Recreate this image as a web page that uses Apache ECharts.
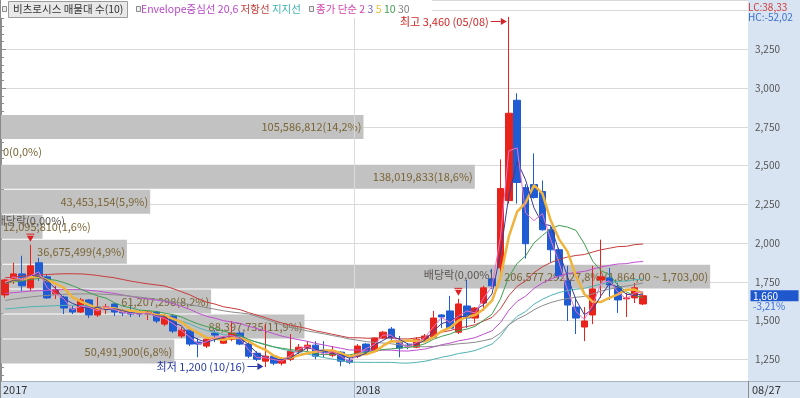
<!DOCTYPE html>
<html>
<head>
<meta charset="utf-8">
<title>비츠로시스 주봉</title>
<script src="https://cdn.jsdelivr.net/npm/echarts@6/dist/echarts.min.js"></script>
<style>
  html, body { margin: 0; padding: 0; background: #fff; }
  #chart { width: 800px; height: 398px; }
</style>
</head>
<body>
<div id="chart"></div>
<script>
// weekly bars, 2017-03-06 .. 2018-08-27 (Chuseok week 2017-10-02 has no bar)
const dates = [
  '2017-03-06','2017-03-13','2017-03-20','2017-03-27','2017-04-03','2017-04-10','2017-04-17','2017-04-24','2017-05-01','2017-05-08',
  '2017-05-15','2017-05-22','2017-05-29','2017-06-05','2017-06-12','2017-06-19','2017-06-26','2017-07-03','2017-07-10','2017-07-17',
  '2017-07-24','2017-07-31','2017-08-07','2017-08-14','2017-08-21','2017-08-28','2017-09-04','2017-09-11','2017-09-18','2017-09-25',
  '2017-10-09','2017-10-16','2017-10-23','2017-10-30','2017-11-06','2017-11-13','2017-11-20','2017-11-27','2017-12-04','2017-12-11',
  '2017-12-18','2017-12-25','2018-01-01','2018-01-08','2018-01-15','2018-01-22','2018-01-29','2018-02-05','2018-02-12','2018-02-19',
  '2018-02-26','2018-03-05','2018-03-12','2018-03-19','2018-03-26','2018-04-02','2018-04-09','2018-04-16','2018-04-23','2018-04-30',
  '2018-05-07','2018-05-14','2018-05-21','2018-05-28','2018-06-04','2018-06-11','2018-06-18','2018-06-25','2018-07-02','2018-07-09',
  '2018-07-16','2018-07-23','2018-07-30','2018-08-06','2018-08-13','2018-08-20','2018-08-27'
];

// [open, close, low, high]
const candles = [
  [1665,1762,1646,1769],[1769,1801,1737,1873],[1801,1724,1691,1918],[1711,1853,1691,1990],[1873,1775,1756,1905],
  [1782,1646,1639,1801],[1672,1698,1639,1724],[1652,1581,1542,1659],[1575,1555,1542,1594],[1555,1633,1549,1646],
  [1633,1536,1516,1639],[1536,1587,1523,1652],[1581,1587,1542,1607],[1607,1555,1529,1613],[1562,1549,1529,1575],
  [1555,1542,1523,1594],[1555,1542,1523,1568],[1542,1555,1503,1562],[1555,1497,1484,1562],[1477,1529,1464,1542],
  [1529,1432,1419,1542],[1400,1438,1387,1458],[1438,1348,1335,1445],[1361,1348,1263,1387],[1335,1380,1322,1393],
  [1419,1406,1361,1438],[1354,1387,1348,1400],[1380,1419,1367,1497],[1419,1348,1341,1432],[1348,1270,1257,1361],
  [1289,1250,1238,1302],[1238,1270,1200,1477],[1270,1225,1212,1283],[1225,1250,1210,1263],[1250,1302,1238,1413],
  [1302,1328,1283,1348],[1322,1341,1302,1367],[1341,1270,1250,1367],[1309,1296,1263,1367],[1276,1302,1263,1335],
  [1296,1238,1205,1302],[1244,1231,1218,1270],[1270,1335,1257,1348],[1348,1302,1289,1354],[1302,1387,1296,1393],
  [1387,1425,1380,1432],[1445,1387,1374,1458],[1367,1322,1263,1400],[1341,1335,1315,1354],[1328,1380,1322,1393],
  [1380,1400,1374,1413],[1393,1516,1387,1562],[1536,1523,1451,1542],[1562,1451,1445,1659],[1425,1607,1413,1640],
  [1594,1516,1451,1762],[1516,1581,1484,1587],[1613,1711,1562,1724],[1769,1724,1704,1834],[1840,2352,1808,2540],
  [2274,2838,2255,3460],[2922,2391,2255,2967],[2358,1996,1900,2380],[2378,2294,2287,2579],[2333,2086,2080,2404],
  [2086,1957,1873,2106],[1957,1788,1770,1970],[1756,1600,1497,1853],[1587,1516,1413,1646],[1458,1497,1367,1587],
  [1536,1704,1477,1853],[1762,1782,1646,2022],[1775,1730,1633,1840],[1717,1633,1549,1743],[1640,1646,1523,1678],
  [1646,1711,1613,1743],[1607,1660,1600,1675]
];

// Envelope (20, 6%)
const envCenter = [
  1675,1680,1685,1690,1693,1695,1698,1700,1700,1699,1695,1690,1682,1675,1665,1655,1646,1639,1632,1625,
  1609,1591,1572,1547,1527,1515,1499,1491,1481,1463,1448,1433,1415,1399,1387,1376,1366,1352,1342,1331,
  1321,1310,1310,1308,1308,1309,1309,1304,1303,1309,1316,1329,1344,1354,1369,1378,1390,1412,1434,1486,
  1566,1624,1657,1707,1742,1768,1788,1802,1811,1817,1832,1846,1856,1865,1867,1877,1881
];
const envUpper = [
  1776,1781,1786,1791,1795,1797,1800,1802,1802,1801,1797,1791,1783,1776,1765,1754,1745,1737,1730,1723,
  1706,1686,1666,1640,1619,1606,1589,1580,1570,1551,1535,1519,1500,1483,1470,1459,1448,1433,1423,1411,
  1400,1389,1389,1386,1386,1388,1388,1382,1381,1388,1395,1409,1425,1435,1451,1461,1473,1497,1520,1575,
  1660,1721,1756,1809,1847,1874,1895,1910,1920,1926,1942,1957,1967,1977,1979,1990,1994
];
const envLower = [
  1575,1579,1584,1589,1591,1593,1596,1598,1598,1597,1593,1589,1581,1575,1565,1556,1547,1541,1534,1528,
  1512,1496,1478,1454,1435,1424,1409,1402,1392,1375,1361,1347,1330,1315,1304,1293,1284,1271,1261,1251,
  1242,1231,1231,1230,1230,1230,1230,1226,1225,1230,1237,1249,1263,1273,1287,1295,1307,1327,1348,1397,
  1472,1527,1558,1605,1637,1662,1681,1694,1702,1708,1722,1735,1745,1753,1755,1764,1768
];

// simple moving averages of close: 2, 3, 5, 10, 30
const ma2 = [
  1745,1782,1763,1789,1814,1711,1672,1640,1568,1594,1585,1562,1587,1571,1552,1546,1542,1549,1526,1513,
  1481,1435,1393,1348,1364,1393,1397,1403,1384,1309,1260,1260,1248,1238,1276,1315,1335,1306,1283,1299,
  1270,1235,1283,1319,1345,1406,1406,1355,1329,1358,1390,1458,1520,1487,1529,1562,1549,1646,1718,2038,
  2595,2615,2194,2145,2190,2022,1873,1694,1558,1507,1601,1743,1756,1682,1640,1679,1686
];
const ma3 = [
  1740,1760,1762,1793,1784,1758,1706,1642,1611,1590,1575,1585,1570,1576,1564,1549,1544,1546,1531,1527,
  1486,1466,1406,1378,1359,1378,1391,1404,1385,1346,1289,1263,1248,1248,1259,1293,1324,1313,1302,1289,
  1279,1257,1268,1289,1341,1371,1400,1378,1348,1346,1372,1432,1480,1497,1527,1525,1568,1603,1672,1929,
  2305,2527,2408,2227,2125,2112,1944,1782,1635,1538,1572,1661,1739,1715,1670,1663,1672
];
const ma5 = [
  1745,1760,1765,1780,1783,1760,1739,1711,1651,1623,1601,1578,1580,1580,1563,1564,1555,1549,1537,1533,
  1511,1490,1449,1419,1389,1384,1374,1388,1388,1366,1335,1311,1273,1253,1259,1275,1289,1298,1307,1307,
  1289,1267,1280,1282,1299,1336,1367,1365,1371,1370,1365,1391,1431,1454,1499,1523,1536,1573,1628,1777,
  2041,2203,2260,2374,2321,2145,2024,1945,1789,1672,1621,1620,1646,1669,1699,1700,1676
];
const ma10 = [
  1740,1750,1755,1765,1772,1768,1760,1745,1725,1703,1680,1659,1645,1615,1593,1582,1567,1564,1558,1548,
  1538,1523,1499,1478,1461,1448,1432,1418,1404,1378,1359,1343,1330,1321,1313,1305,1300,1285,1280,1283,
  1282,1278,1289,1295,1303,1313,1317,1323,1326,1334,1350,1379,1398,1413,1435,1444,1463,1502,1541,1638,
  1782,1869,1917,2001,2049,2093,2114,2103,2082,1996,1883,1822,1795,1729,1685,1661,1648
];
const ma30 = [
  1630,1638,1645,1652,1658,1662,1666,1669,1671,1672,1672,1671,1669,1666,1662,1657,1651,1645,1638,1630,
  1622,1613,1603,1593,1583,1573,1563,1555,1549,1543,1526,1508,1491,1471,1456,1445,1433,1423,1414,1403,
  1393,1381,1373,1364,1359,1355,1350,1342,1337,1332,1331,1333,1339,1343,1350,1354,1360,1370,1383,1419,
  1472,1509,1535,1569,1596,1616,1631,1642,1650,1656,1672,1690,1703,1714,1723,1732,1742
];

// volume profile (10 price bands, top to bottom)
const profileEdges = [2830, 2669, 2508, 2347, 2186, 2025, 1864, 1703, 1542, 1381, 1220];
const profileVolumes = [105586812, 0, 138019833, 43453154, 12095810, 36675499, 206577292, 61207298, 88397735, 50491900];
const profilePct = [14.2, 0.0, 18.6, 5.9, 1.6, 4.9, 27.8, 8.2, 11.9, 6.8];

const exDivIndex = [3, 54];
const exDivRate = ['0,00%', '0,00%'];
const highDay = '05/08';
const lowDay = '10/16';
const lastChange = '-3,21%';
const lcText = 'LC:38,33';
const hcText = 'HC:-52,02';

const FONT = '"Noto Sans CJK KR", "Noto Sans", sans-serif';
const LABEL_FONT = '11px ' + FONT;
const EMPTY_SLOTS = 12;

const axisDates = dates.concat(new Array(EMPTY_SLOTS).fill(''));
const measureCtx = document.createElement('canvas').getContext('2d');
function textWidth(s, font) {
  measureCtx.font = font;
  return measureCtx.measureText(s).width;
}
function fmtNum(v) { return v.toLocaleString('en-US'); }
function fmtPct(p) { return p.toFixed(1).replace('.', ',') + '%'; }

const maxVol = Math.max(...profileVolumes);
const profileData = profileVolumes.map((v, i) => [v, profileEdges[i], profileEdges[i + 1]]);
const profileLabels = profileVolumes.map((v, i) => {
  let s = fmtNum(v) + '(' + fmtPct(profilePct[i]) + ')';
  if (v === maxVol) {
    s += '(' + fmtNum(profileEdges[i]) + ',00 ~ ' + fmtNum(profileEdges[i + 1]) + ',00)';
  }
  return s;
});

function renderProfile(params, api) {
  const i = params.dataIndex;
  const a = api.coord([0, api.value(1)]);
  const b = api.coord([api.value(0), api.value(2)]);
  const left = params.coordSys.x;
  const top = a[1] + 0.5;
  const bottom = b[1] - 0.5;
  const width = Math.max(b[0] - left, 0);
  const text = profileLabels[i];
  const fits = textWidth(text, LABEL_FONT) + 4 <= width;
  return {
    type: 'group',
    children: [
      { type: 'rect', shape: { x: left, y: top, width: width, height: bottom - top }, style: { fill: '#c2c2c2' } },
      {
        type: 'text',
        x: fits ? left + width - 2 : left + 2,
        y: (top + bottom) / 2,
        style: { text: text, fill: '#7a6535', font: LABEL_FONT, align: fits ? 'right' : 'left', verticalAlign: 'middle' }
      }
    ]
  };
}

function lineSeries(name, data, color, width) {
  return {
    name: name, type: 'line', data: data, symbol: 'none', smooth: false, z: 4,
    lineStyle: { color: color, width: width || 1 }, itemStyle: { color: color }
  };
}

const chart = echarts.init(document.getElementById('chart'), null, { renderer: 'canvas' });

chart.setOption({
  animation: false,
  backgroundColor: '#fff',
  textStyle: { fontFamily: FONT },
  grid: { left: 1, right: 52, top: 0, bottom: 0 },
  xAxis: [
    {
      type: 'category', data: axisDates, boundaryGap: true,
      axisLine: { show: false }, axisTick: { show: false }, axisLabel: { show: false }, splitLine: { show: false }
    },
    { type: 'value', min: 0, max: 217600000, show: false }
  ],
  yAxis: {
    type: 'value', position: 'right', min: 1000, max: 3569, interval: 250,
    axisLine: { show: true, lineStyle: { color: '#8d8d8d' } },
    axisTick: { show: true, length: 5, lineStyle: { color: '#8d8d8d' } },
    minorTick: { show: true, splitNumber: 5, length: 3, lineStyle: { color: '#8d8d8d' } },
    splitLine: { show: true, lineStyle: { color: '#d9d9d9' } },
    axisLabel: {
      margin: 7, color: '#555', fontSize: 10, fontFamily: FONT,
      showMinLabel: false, showMaxLabel: false,
      formatter: v => (v < 1250 || v > 3250) ? '' : fmtNum(v)
    }
  },
  series: [
    {
      type: 'custom', id: 'profile', xAxisIndex: 1, yAxisIndex: 0, z: 1,
      data: profileData, encode: { x: 0, y: 1 }, renderItem: renderProfile, silent: true
    },
    {
      type: 'candlestick', id: 'k', data: candles, barWidth: 7, z: 3,
      itemStyle: { color: '#e8231b', color0: '#1f5cd3', borderColor: '#e8231b', borderColor0: '#1f5cd3', borderWidth: 1 }
    },
    lineSeries('지지선', envLower, '#4fb3b3'),
    lineSeries('저항선', envUpper, '#c83c3c'),
    lineSeries('Envelope중심선', envCenter, '#c04fd0'),
    lineSeries('30', ma30, '#8c8c8c'),
    lineSeries('10', ma10, '#3e9e4e'),
    lineSeries('5', ma5, '#f0b43c', 2.5),
    lineSeries('3', ma3, '#3b3b9e'),
    lineSeries('2', ma2, '#ee6fc8')
  ]
});

function px(i, v) { return chart.convertToPixel({ seriesId: 'k' }, [i, v]); }

function buildGraphics() {
  const g = [];
  const slot = px(1, 1500)[0] - px(0, 1500)[0];
  const bandTop = 381;

  // right price panel and bottom date band
  g.push({ type: 'rect', z: -1, shape: { x: 748, y: 0, width: 52, height: 398 }, style: { fill: '#d8e4f2' } });
  g.push({ type: 'rect', z: 50, shape: { x: 0, y: bandTop, width: 800, height: 398 - bandTop }, style: { fill: '#d8e4f2' } });
  g.push({ type: 'line', z: 51, shape: { x1: 0, y1: bandTop + 0.5, x2: 800, y2: bandTop + 0.5 }, style: { stroke: '#a9b3c0', lineWidth: 1 } });
  g.push({ type: 'line', z: 51, shape: { x1: 748.5, y1: bandTop, x2: 748.5, y2: 398 }, style: { stroke: '#8d8d8d', lineWidth: 1 } });
  g.push({ type: 'line', z: 51, shape: { x1: 0.5, y1: 0, x2: 0.5, y2: 398 }, style: { stroke: '#8a8a8a', lineWidth: 1 } });

  // year labels
  dates.forEach((d, i) => {
    if (i > 0 && d.slice(0, 4) === dates[i - 1].slice(0, 4)) return;
    const edge = Math.round(px(i, 1500)[0] - slot / 2) + 0.5;
    if (i > 0) {
      g.push({ type: 'line', z: 2, shape: { x1: edge, y1: 0, x2: edge, y2: bandTop }, style: { stroke: '#dadada', lineWidth: 1 } });
      g.push({ type: 'line', z: 51, shape: { x1: edge, y1: bandTop, x2: edge, y2: 398 }, style: { stroke: '#a9b3c0', lineWidth: 1 } });
    }
    g.push({ type: 'text', z: 52, x: edge + 1.5, y: 390, style: { text: d.slice(0, 4), fill: '#333', font: LABEL_FONT, verticalAlign: 'middle' } });
  });
  const last = dates[dates.length - 1];
  g.push({ type: 'text', z: 52, x: 752, y: 390, style: { text: last.slice(5).replace('-', '/'), fill: '#333', font: LABEL_FONT, verticalAlign: 'middle' } });

  // indicator values at top of the price panel
  g.push({ type: 'text', z: 52, x: 748, y: 7, style: { text: lcText, fill: '#d03a3a', font: '10px ' + FONT, verticalAlign: 'middle' } });
  g.push({ type: 'text', z: 52, x: 748, y: 17, style: { text: hcText, fill: '#3a6fd0', font: '10px ' + FONT, verticalAlign: 'middle' } });

  // current price box
  const lastIdx = candles.length - 1;
  const lastClose = candles[lastIdx][1];
  const yc = px(lastIdx, lastClose)[1];
  g.push({ type: 'rect', z: 52, shape: { x: 750.5, y: yc - 5.5, width: 48, height: 11 }, style: { fill: '#1f57cc' } });
  g.push({ type: 'text', z: 53, x: 753, y: yc, style: { text: fmtNum(lastClose), fill: '#fff', font: '10px ' + FONT, verticalAlign: 'middle' } });
  g.push({ type: 'text', z: 53, x: 753, y: yc + 10, style: { text: lastChange, fill: '#3f6fd8', font: '10px ' + FONT, verticalAlign: 'middle' } });

  // highest / lowest annotations
  let hiIdx = 0, loIdx = 0;
  candles.forEach((c, i) => {
    if (c[3] > candles[hiIdx][3]) hiIdx = i;
    if (c[2] < candles[loIdx][2]) loIdx = i;
  });
  const marks = [
    { i: hiIdx, v: candles[hiIdx][3], text: '최고 ' + fmtNum(candles[hiIdx][3]) + ' (' + highDay + ')', color: '#d02525', dy: 4 },
    { i: loIdx, v: candles[loIdx][2], text: '최저 ' + fmtNum(candles[loIdx][2]) + ' (' + lowDay + ')', color: '#2638a8', dy: -1 }
  ];
  marks.forEach(m => {
    const p = px(m.i, m.v);
    const y = Math.round(p[1] + m.dy) + 0.5;
    g.push({ type: 'text', z: 55, x: p[0] - 20, y: y, style: { text: m.text, fill: m.color, font: LABEL_FONT, align: 'right', verticalAlign: 'middle' } });
    g.push({ type: 'line', z: 55, shape: { x1: p[0] - 18, y1: y, x2: p[0] - 8, y2: y }, style: { stroke: m.color, lineWidth: 1 } });
    g.push({ type: 'polygon', z: 55, shape: { points: [[p[0] - 8, y - 3.5], [p[0] - 2, y], [p[0] - 8, y + 3.5]] }, style: { fill: m.color } });
  });

  // ex-dividend markers
  exDivIndex.forEach((i, k) => {
    const p = px(i, candles[i][3]);
    const x = p[0], y = p[1];
    g.push({ type: 'polygon', z: 20, shape: { points: [[x - 3.5, y - 9], [x + 3.5, y - 9], [x, y - 3]] }, style: { fill: '#e02020' } });
    g.push({ type: 'line', z: 20, shape: { x1: x - 4, y1: y - 10.5, x2: x + 4, y2: y - 10.5 }, style: { stroke: '#e02020', lineWidth: 1 } });
    g.push({ type: 'text', z: 20, x: x, y: y - 24, style: { text: '배당락(' + exDivRate[k] + ')', fill: '#5a5550', font: LABEL_FONT, align: 'center', verticalAlign: 'middle' } });
  });

  // legend strip
  const lf = '10.5px ' + FONT;
  g.push({ type: 'rect', z: 50, shape: { x: 0, y: 0, width: 432, height: 18 }, style: { fill: '#fff' } });
  [2, 136, 309].forEach(x => {
    g.push({ type: 'rect', z: 51, shape: { x: x + 0.5, y: 6.5, width: 4, height: 5 }, style: { fill: '#eeeeee', stroke: '#8a8a8a', lineWidth: 1 } });
  });
  g.push({ type: 'rect', z: 51, shape: { x: 8.5, y: 1.5, width: 119, height: 16 }, style: { fill: '#e8e8e8', stroke: '#9c9c9c', lineWidth: 1 } });
  g.push({ type: 'text', z: 52, x: 13, y: 9.5, style: { text: '비츠로시스 매물대 수(10)', fill: '#333', font: lf, verticalAlign: 'middle' } });
  g.push({
    type: 'text', z: 52, x: 141, y: 9.5,
    style: {
      text: '{e|Envelope중심선 20,6} {r|저항선} {s|지지선}', font: lf, verticalAlign: 'middle',
      rich: { e: { fill: '#b845c8', font: lf }, r: { fill: '#c83c3c', font: lf }, s: { fill: '#3fb0b0', font: lf } }
    }
  });
  g.push({
    type: 'text', z: 52, x: 316, y: 9.5,
    style: {
      text: '{a|종가 단순 2} {b|3} {c|5} {d|10} {f|30}', font: lf, verticalAlign: 'middle',
      rich: {
        a: { fill: '#d447ae', font: lf }, b: { fill: '#6a5fc4', font: lf }, c: { fill: '#e7c23c', font: lf },
        d: { fill: '#3e9e4e', font: lf }, f: { fill: '#808080', font: lf }
      }
    }
  });
  return g;
}

chart.setOption({ graphic: buildGraphics() });
</script>
</body>
</html>
